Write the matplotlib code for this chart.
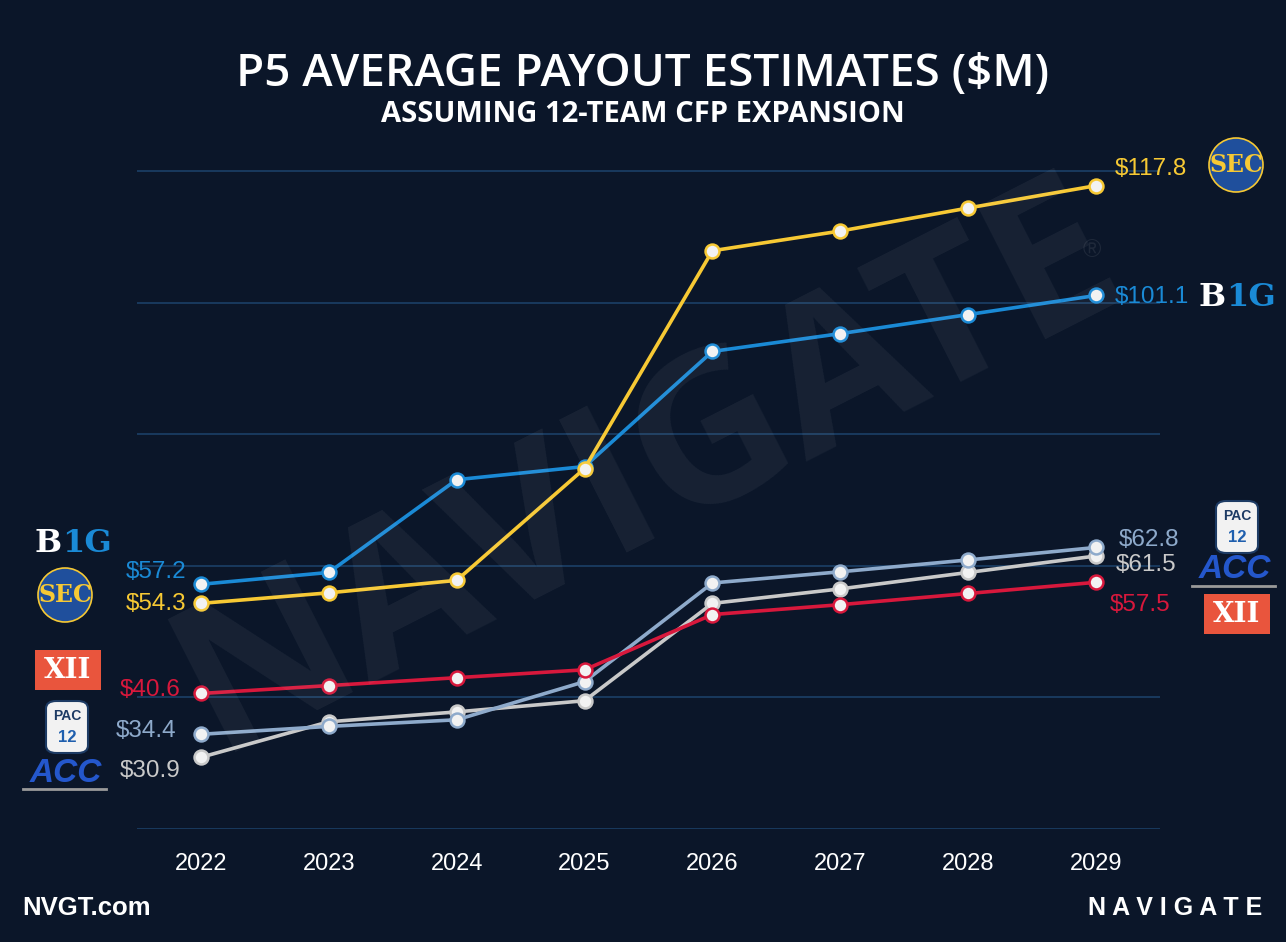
import matplotlib
matplotlib.use("Agg")
import matplotlib.pyplot as plt
from matplotlib.patches import Ellipse, FancyBboxPatch, Rectangle

years = [2022, 2023, 2024, 2025, 2026, 2027, 2028, 2029]
sec = [54.3, 55.9, 57.8, 74.8, 107.9, 110.9, 114.4, 117.8]
b1g = [57.2, 59.0, 73.1, 75.1, 92.6, 95.3, 98.2, 101.1]
big12 = [40.6, 41.8, 43.0, 44.2, 52.6, 54.1, 55.8, 57.5]
pac12 = [34.4, 35.6, 36.6, 42.4, 57.4, 59.1, 60.9, 62.8]
acc = [30.9, 36.3, 37.8, 39.5, 54.3, 56.5, 59.0, 61.5]
grid_vals = [20, 40, 60, 80, 100, 120]

BG = "#0b1629"
C_SEC = "#f7c934"
C_B1G = "#1a8ad6"
C_B12 = "#d8183c"
C_PAC = "#8eaacb"
C_ACC = "#c9c9c9"
FONT = ["Liberation Sans", "DejaVu Sans"]
TFONT = ["Open Sans", "DejaVu Sans"]

W, H = 1286, 942
fig = plt.figure(figsize=(W / 100, H / 100), dpi=100, facecolor=BG)

def fx(px):
    return px / W

def fy(py):
    return 1 - py / H

ax = fig.add_axes([fx(137), fy(829), fx(1160) - fx(137), fy(158) - fy(829)])
ax.set_facecolor(BG)
ax.set_xlim(2021.5, 2029.5)
ax.set_ylim(20, 122)
for s in ax.spines.values():
    s.set_visible(False)
ax.set_yticks([])
for g in grid_vals:
    ax.axhline(g, color="#1b4067", lw=1.2, zorder=1)
ax.set_xticks(years)
ax.set_xticklabels([str(y) for y in years], color="white", fontsize=17, family=FONT)
ax.tick_params(axis="x", length=0, pad=17)

# watermark
fig.text(0.505, 0.5, "NAVIGATE", rotation=27, fontsize=150, color="white", alpha=0.055,
         ha="center", va="center", family=TFONT, fontweight="bold", zorder=0)
fig.text(fx(1092), fy(250), "®", fontsize=18, color="white", alpha=0.08,
         ha="center", va="center", family=FONT)

series = [(acc, C_ACC), (pac12, C_PAC), (big12, C_B12), (b1g, C_B1G), (sec, C_SEC)]
for vals, c in series:
    ax.plot(years, vals, color=c, lw=2.6, zorder=3, marker="o", markersize=10,
            markerfacecolor="#f2f2f2", markeredgecolor=c, markeredgewidth=1.8, clip_on=False)

# value labels
def lab(x, y, t, c, ha):
    fig.text(fx(x), fy(y), t, color=c, fontsize=17.5, ha=ha, va="center", family=FONT)

lab(186, 572, f"${b1g[0]}", C_B1G, "right")
lab(186, 604, f"${sec[0]}", C_SEC, "right")
lab(181, 690, f"${big12[0]}", C_B12, "right")
lab(176, 731, f"${pac12[0]}", C_PAC, "right")
lab(181, 771, f"${acc[0]}", C_ACC, "right")
lab(1115, 169, f"${sec[-1]}", C_SEC, "left")
lab(1115, 297, f"${b1g[-1]}", C_B1G, "left")
lab(1119, 540, f"${pac12[-1]}", C_PAC, "left")
lab(1116, 565, f"${acc[-1]}", C_ACC, "left")
lab(1110, 605, f"${big12[-1]}", C_B12, "left")

# logos (approximations)
def logo_b1g(cx, cy):
    fig.text(fx(cx), fy(cy), "B", color="white", fontsize=23, fontweight="black",
             ha="right", va="center", family=["DejaVu Serif"])
    fig.text(fx(cx), fy(cy), "1G", color="#1a8ad6", fontsize=23, fontweight="black",
             ha="left", va="center", family=["DejaVu Serif"])

def logo_sec(cx, cy):
    r = 27
    fig.patches.append(Ellipse((fx(cx), fy(cy)), 2 * r / W, 2 * r / H, transform=fig.transFigure,
                               facecolor="#1f4f9c", edgecolor="#f7c934", lw=1.2, zorder=5))
    fig.text(fx(cx), fy(cy), "SEC", color="#f7c934", fontsize=17, fontweight="bold",
             ha="center", va="center", family=["DejaVu Serif"], zorder=6)

def logo_xii(cx, cy):
    fig.patches.append(Rectangle((fx(cx - 33), fy(cy + 20)), 66 / W, 40 / H,
                                 transform=fig.transFigure, facecolor="#e9553d",
                                 edgecolor="none", zorder=5))
    fig.text(fx(cx), fy(cy), "XII", color="white", fontsize=20, fontweight="bold",
             ha="center", va="center", family=["DejaVu Serif"], zorder=6)

def logo_pac(cx, cy):
    fig.patches.append(FancyBboxPatch((fx(cx - 21), fy(cy + 26)), 42 / W, 52 / H,
                                      boxstyle="round,pad=0,rounding_size=0.008",
                                      transform=fig.transFigure, facecolor="#f2f2f2",
                                      edgecolor="#1d3b64", lw=1.5, zorder=5))
    fig.text(fx(cx), fy(cy - 11), "PAC", color="#1d3b64", fontsize=10, fontweight="bold",
             ha="center", va="center", family=FONT, zorder=6)
    fig.text(fx(cx), fy(cy + 11), "12", color="#1f5fae", fontsize=12, fontweight="bold",
             ha="center", va="center", family=FONT, zorder=6)

def logo_acc(cx, cy):
    fig.text(fx(cx), fy(cy - 2), "ACC", color="#2457cc", fontsize=24, fontweight="bold",
             fontstyle="italic", ha="center", va="center", family=FONT, zorder=6)
    fig.add_artist(plt.Line2D([fx(cx - 43), fx(cx + 40)], [fy(cy + 14), fy(cy + 14)],
                              color="#9a9a9a", lw=2, transform=fig.transFigure))

logo_b1g(62, 543)
logo_sec(65, 595)
logo_xii(68, 670)
logo_pac(67, 727)
logo_acc(66, 775)
logo_sec(1236, 165)
logo_b1g(1226, 297)
logo_pac(1237, 527)
logo_acc(1235, 572)
logo_xii(1237, 614)

# titles
fig.text(0.5, fy(75), "P5 AVERAGE PAYOUT ESTIMATES ($M)", color="white", fontsize=33,
         fontweight="semibold", ha="center", va="center", family=TFONT)
fig.text(0.5, fy(114), "ASSUMING 12-TEAM CFP EXPANSION", color="white", fontsize=21,
         fontweight="bold", ha="center", va="center", family=TFONT)

# footer
fig.text(fx(22), fy(908), "NVGT.com", color="white", fontsize=18.5, fontweight="bold",
         ha="left", va="center", family=FONT)
fig.text(fx(1262), fy(908), "N A V I G A T E", color="white", fontsize=18,
         fontweight="bold", ha="right", va="center", family=FONT)

fig.savefig("out.png", dpi=100, facecolor=BG)
